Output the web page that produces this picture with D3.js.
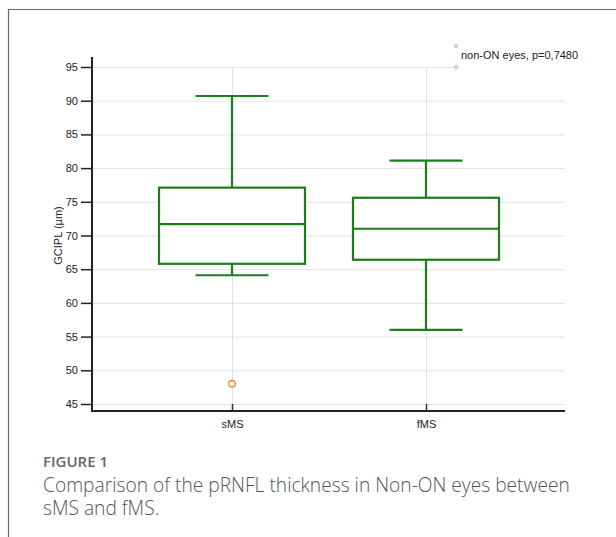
<!DOCTYPE html>
<html>
<head>
<meta charset="utf-8">
<script src="https://cdn.jsdelivr.net/npm/d3@7"></script>
<style>
  body { margin: 0; background: #fff; }
  svg { display: block; }
</style>
</head>
<body>
<svg id="drawing_region"></svg>
<script>
// data
const groups = ["sMS", "fMS"];
const whiskerLow = [64.1, 56.0];
const q1 = [65.8, 66.4];
const median = [71.7, 71.0];
const q3 = [77.1, 75.6];
const whiskerHigh = [90.7, 81.1];
const outliers = [[48.0], []];
const yTicks = [45, 50, 55, 60, 65, 70, 75, 80, 85, 90, 95];
const legendLabel = "non-ON eyes, p=0,7480";

const boxes = groups.map((g, i) => ({
    group: g, lo: whiskerLow[i], q1: q1[i], med: median[i], q3: q3[i], hi: whiskerHigh[i], out: outliers[i]
}));

const width = 616, height = 537;
const green = "#1b7d1b";
const sans = "'Liberation Sans', Arial, sans-serif";

const svg = d3.select("#drawing_region")
    .attr("width", width)
    .attr("height", height);

// frame around the figure
svg.append("path")
    .attr("d", `M8.5,${height} V9.5 H${width}`)
    .attr("fill", "none")
    .attr("stroke", "#666")
    .attr("stroke-width", 1.2);

const plot = {left: 92, right: 565, top: 67, bottom: 411};

const yscale = d3.scaleLinear()
    .domain([45, 95])
    .range([404, 67]);

const xscale = d3.scalePoint()
    .domain(groups)
    .range([232, 426]);

// grid
svg.append("g")
    .selectAll("line")
    .data(yTicks)
    .join("line")
    .attr("x1", plot.left)
    .attr("x2", d => d === 95 ? 456 : plot.right)
    .attr("y1", d => yscale(d) + 0.5)
    .attr("y2", d => yscale(d) + 0.5)
    .attr("stroke", "#e2e2e2")
    .attr("stroke-width", 1);

svg.append("g")
    .selectAll("line")
    .data(groups)
    .join("line")
    .attr("x1", d => xscale(d) + 0.5)
    .attr("x2", d => xscale(d) + 0.5)
    .attr("y1", yscale(95))
    .attr("y2", plot.bottom)
    .attr("stroke", "#e2e2e2")
    .attr("stroke-width", 1);

// axes
const yaxis = d3.axisLeft(yscale)
    .tickValues(yTicks)
    .tickSize(11)
    .tickPadding(3);

const yaxis_group = svg.append("g")
    .attr("transform", `translate(${plot.left}, 0)`)
    .call(yaxis);
yaxis_group.select(".domain").remove();
yaxis_group.selectAll("line").attr("stroke", "#222").attr("stroke-width", 1.5);
yaxis_group.selectAll("text")
    .attr("font-family", sans)
    .attr("font-size", 11)
    .attr("fill", "#222");

const xaxis = d3.axisBottom(xscale)
    .tickSize(-7)
    .tickPadding(9);

const xaxis_group = svg.append("g")
    .attr("transform", `translate(0, ${plot.bottom})`)
    .call(xaxis);
xaxis_group.select(".domain").remove();
xaxis_group.selectAll("line").attr("stroke", "#333").attr("stroke-width", 1.5);
xaxis_group.selectAll("text")
    .attr("font-family", sans)
    .attr("font-size", 11)
    .attr("fill", "#222");

svg.append("line")
    .attr("x1", plot.left).attr("x2", plot.left)
    .attr("y1", 57).attr("y2", plot.bottom + 1)
    .attr("stroke", "#222").attr("stroke-width", 2);
svg.append("line")
    .attr("x1", plot.left - 1).attr("x2", plot.right)
    .attr("y1", plot.bottom).attr("y2", plot.bottom)
    .attr("stroke", "#222").attr("stroke-width", 2);

svg.append("text")
    .attr("transform", `translate(62, ${yscale(70)}) rotate(-90)`)
    .attr("text-anchor", "middle")
    .attr("font-family", sans)
    .attr("font-size", 11)
    .attr("fill", "#222")
    .text("GCIPL (µm)");

// boxes
const boxW = 146, capW = 73;
const bx = svg.append("g")
    .selectAll("g")
    .data(boxes)
    .join("g")
    .attr("fill", "none")
    .attr("stroke", green)
    .attr("stroke-width", 2.2);

bx.append("line")
    .attr("x1", d => xscale(d.group)).attr("x2", d => xscale(d.group))
    .attr("y1", d => yscale(d.hi)).attr("y2", d => yscale(d.q3));
bx.append("line")
    .attr("x1", d => xscale(d.group)).attr("x2", d => xscale(d.group))
    .attr("y1", d => yscale(d.q1)).attr("y2", d => yscale(d.lo));
bx.append("line")
    .attr("x1", d => xscale(d.group) - capW / 2).attr("x2", d => xscale(d.group) + capW / 2)
    .attr("y1", d => yscale(d.hi)).attr("y2", d => yscale(d.hi));
bx.append("line")
    .attr("x1", d => xscale(d.group) - capW / 2).attr("x2", d => xscale(d.group) + capW / 2)
    .attr("y1", d => yscale(d.lo)).attr("y2", d => yscale(d.lo));
bx.append("rect")
    .attr("x", d => xscale(d.group) - boxW / 2)
    .attr("width", boxW)
    .attr("y", d => yscale(d.q3))
    .attr("height", d => yscale(d.q1) - yscale(d.q3))
    .attr("fill", "#fff");
bx.append("line")
    .attr("x1", d => xscale(d.group) - boxW / 2).attr("x2", d => xscale(d.group) + boxW / 2)
    .attr("y1", d => yscale(d.med)).attr("y2", d => yscale(d.med));

bx.selectAll("circle")
    .data(d => d.out.map(v => ({group: d.group, v})))
    .join("circle")
    .attr("cx", d => xscale(d.group))
    .attr("cy", d => yscale(d.v))
    .attr("r", 3.3)
    .attr("stroke", "#f08030")
    .attr("stroke-width", 1.3);

// legend
const lg = svg.append("g");
lg.selectAll("circle")
    .data([46, 67])
    .join("circle")
    .attr("cx", 456).attr("cy", d => d)
    .attr("r", 1.5)
    .attr("fill", "#fff")
    .attr("stroke", "#999")
    .attr("stroke-width", 0.8);
lg.append("text")
    .attr("x", 461).attr("y", 59)
    .attr("font-family", sans)
    .attr("font-size", 11)
    .attr("fill", "#222")
    .text(legendLabel);

// caption
svg.append("text")
    .attr("x", 43).attr("y", 467)
    .attr("font-family", "'Open Sans', sans-serif")
    .attr("font-size", 15)
    .attr("font-weight", 600)
    .attr("fill", "#666")
    .text("FIGURE 1");
const capLines = ["Comparison of the pRNFL thickness in Non-ON eyes between", "sMS and fMS."];
svg.selectAll("text.cap")
    .data(capLines)
    .join("text")
    .attr("class", "cap")
    .attr("x", 43)
    .attr("y", (d, i) => 492 + i * 23)
    .attr("font-family", "'Open Sans', sans-serif")
    .attr("font-size", 19.2)
    .attr("font-weight", 300)
    .attr("fill", "#555")
    .text(d => d);
</script>
</body>
</html>
